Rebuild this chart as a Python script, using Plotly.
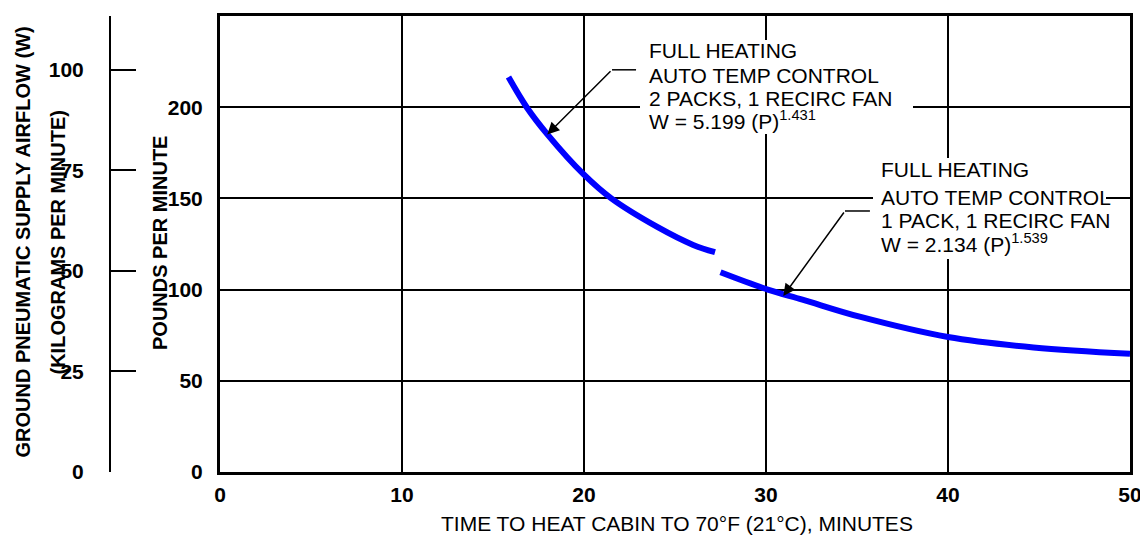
import plotly.graph_objects as go

# ---- data ----
time_2packs = [15.85, 16.85, 18.0, 20.0, 21.5, 24.0, 26.0, 27.2]
lbs_2packs = [216.5, 200.0, 185.0, 163.0, 150.0, 134.5, 124.5, 120.5]

time_1pack = [27.5, 30.1, 32.0, 35.2, 40.0, 44.7, 50.0]
lbs_1pack = [109.5, 100.0, 94.5, 85.0, 74.0, 68.3, 64.8]

x_ticks = [0, 10, 20, 30, 40, 50]
lb_ticks = [0, 50, 100, 150, 200, 250]
kg_ticks = [0, 25, 50, 75, 100]
LB_PER_KG = 2.20462

label_2packs = ["FULL HEATING", "AUTO TEMP CONTROL", "2 PACKS, 1 RECIRC FAN",
                "W = 5.199 (P)<sup>1.431</sup>"]
label_1pack = ["FULL HEATING", "AUTO TEMP CONTROL", "1 PACK, 1 RECIRC FAN",
               "W = 2.134 (P)<sup>1.539</sup>"]

FONT = "Liberation Sans"
BODY = 8  # page body margin offset
W, H = 1148 - BODY, 541 - BODY
ML, MR, MT, MB = 2, 18, 8, 69
plot_w = W - ML - MR
plot_h = H - MT - MB

def px_x(p):  # page pixel -> paper fraction
    return (p - BODY - ML) / plot_w

def px_y(p):
    return (H + BODY - MB - p) / plot_h

fig = go.Figure()
fig.add_trace(go.Scatter(x=time_2packs, y=lbs_2packs, mode="lines",
                         line=dict(color="#0000FF", width=6, shape="spline"),
                         showlegend=False, hoverinfo="skip"))
fig.add_trace(go.Scatter(x=time_1pack, y=lbs_1pack, mode="lines",
                         line=dict(color="#0000FF", width=6, shape="spline"),
                         showlegend=False, hoverinfo="skip"))
# invisible trace so the kg axis is drawn
fig.add_trace(go.Scatter(x=[None], y=[None], yaxis="y2", xaxis="x", showlegend=False))

tickfont = dict(family=FONT, size=21, color="black", weight="bold")

fig.update_layout(
    width=W, height=H,
    margin=dict(l=ML, r=MR, t=MT, b=MB, autoexpand=False),
    plot_bgcolor="white", paper_bgcolor="white",
    xaxis=dict(domain=[px_x(220), 1.0], range=[0, 50], tickvals=x_ticks,
               showgrid=True, gridcolor="black", gridwidth=2,
               showline=True, linecolor="black", linewidth=3, mirror=True,
               ticks="", tickfont=tickfont, zeroline=False, automargin=False,
               ticklabelstandoff=2),
    yaxis=dict(range=[0, 250], tickvals=lb_ticks,
               showgrid=True, gridcolor="black", gridwidth=2,
               showline=True, linecolor="black", linewidth=3, mirror=True,
               ticks="", ticklabelstandoff=10, tickfont=tickfont, zeroline=False,
               automargin=False),
    yaxis2=dict(range=[0, 250 / LB_PER_KG], tickvals=kg_ticks, anchor="free",
                position=px_x(110), side="left", overlaying="y",
                showgrid=False, showline=True, linecolor="black", linewidth=2,
                ticks="inside", ticklen=25, tickwidth=2, tickcolor="black",
                ticklabelstandoff=21, tickfont=tickfont, zeroline=False,
                automargin=False),
    font=dict(family=FONT, color="black"),
)

# white boxes behind the curve labels (hide gridlines there)
for (x0, x1, y0, y1) in [(640, 913, 40, 134), (873, 1106, 158, 259)]:
    fig.add_shape(type="rect", xref="paper", yref="paper",
                  x0=px_x(x0), x1=px_x(x1), y0=px_y(y1), y1=px_y(y0),
                  fillcolor="white", line=dict(width=0), layer="above")

textfont = dict(family=FONT, size=21, color="black")

# curve labels, one annotation per line
lines1_y = [50.5, 75.5, 98, 120]
lines2_y = [169.5, 197.5, 220.5, 242.5]
for txt, py in zip(label_2packs, lines1_y):
    fig.add_annotation(x=px_x(648), y=px_y(py), xref="paper", yref="paper", text=txt,
                       showarrow=False, xanchor="left", yanchor="middle", align="left",
                       font=textfont, borderpad=0)
for txt, py in zip(label_1pack, lines2_y):
    fig.add_annotation(x=px_x(880), y=px_y(py), xref="paper", yref="paper", text=txt,
                       showarrow=False, xanchor="left", yanchor="middle", align="left",
                       font=textfont, borderpad=0)

# leader arrows
fig.add_annotation(x=17.98, y=185.1, ax=21.54, ay=220.5, xref="x", yref="y",
                   axref="x", ayref="y", text="", showarrow=True,
                   arrowhead=2, arrowsize=1.6, arrowwidth=1.5, arrowcolor="black", standoff=0)
fig.add_annotation(x=30.95, y=96.5, ax=34.34, ay=143.1, xref="x", yref="y",
                   axref="x", ayref="y", text="", showarrow=True,
                   arrowhead=2, arrowsize=1.6, arrowwidth=1.5, arrowcolor="black", standoff=0)
fig.add_shape(type="line", x0=21.54, x1=22.86, y0=220.5, y1=220.5, xref="x", yref="y",
              line=dict(color="black", width=1.5))
fig.add_shape(type="line", x0=34.34, x1=35.71, y0=143.1, y1=143.1, xref="x", yref="y",
              line=dict(color="black", width=1.5))

titlefont = dict(family=FONT, size=20, color="black", weight="bold")
fig.add_annotation(x=px_x(22), y=px_y(242.5), xref="paper", yref="paper",
                   text="GROUND PNEUMATIC SUPPLY AIRFLOW (W)", textangle=-90,
                   xanchor="center", yanchor="middle", showarrow=False, font=titlefont)
fig.add_annotation(x=px_x(57), y=px_y(242.5), xref="paper", yref="paper",
                   text="(KILOGRAMS PER MINUTE)", textangle=-90,
                   xanchor="center", yanchor="middle", showarrow=False, font=titlefont)
fig.add_annotation(x=px_x(160), y=px_y(243), xref="paper", yref="paper",
                   text="POUNDS PER MINUTE", textangle=-90,
                   xanchor="center", yanchor="middle", showarrow=False, font=titlefont)
fig.add_annotation(x=px_x(677), y=px_y(523), xref="paper", yref="paper",
                   text="TIME TO HEAT CABIN TO 70°F (21°C), MINUTES",
                   xanchor="center", yanchor="middle", showarrow=False,
                   font=dict(family=FONT, size=21, color="black"))

fig.write_html("out.html")
